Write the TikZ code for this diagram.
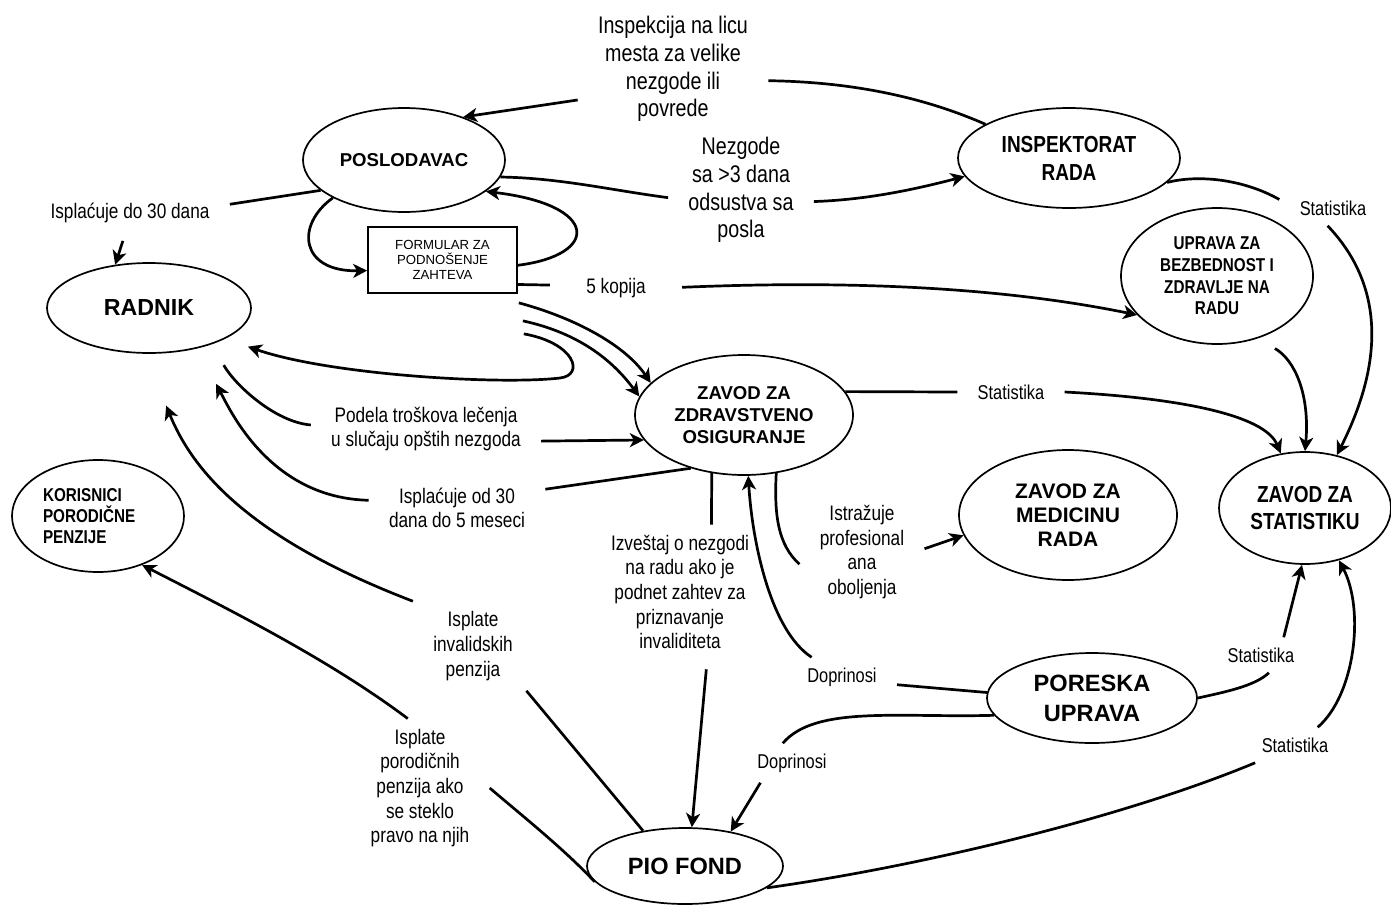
\documentclass[tikz,border=0pt]{standalone}
\usepackage{fontspec}
\setmainfont{Liberation Sans}
\newfontfamily\narrowfont{Liberation Sans}[FakeStretch=0.82]
\usepackage{tikz}
\usetikzlibrary{shapes.geometric}
\usetikzlibrary{arrows.meta}

\newcommand{\lblfont}{\narrowfont\fontsize{10.5}{12.3}\selectfont}
\newcommand{\biglblfont}{\narrowfont\fontsize{12}{13.8}\selectfont}
\newcommand{\smlblfont}{\narrowfont\fontsize{10}{12}\selectfont}

\tikzset{
  ent/.style={draw, ellipse, line width=0.85pt, inner sep=0pt, align=center},
  lbl/.style={inner xsep=10pt, inner ysep=5pt, align=center, font=\lblfont},
  flow/.style={line width=1.35pt},
  arr/.style={flow, -{Stealth[length=7pt,width=7pt,inset=2pt]}},
}

\begin{document}
\begin{tikzpicture}[x=0.5pt,y=-0.5pt]
                        \useasboundingbox (0,0) rectangle (1391,905);
                        \fill[white] (0,0) rectangle (1391,905);

                        % Drawing node POSLODAVAC
                        \node[ent, minimum width=101pt, minimum height=52pt, font={\fontsize{9.3}{10.8}\selectfont\bfseries}] (posl) at (404,160) {POSLODAVAC};

                        % Drawing node RADNIK
                        \node[ent, minimum width=102pt, minimum height=45pt, font={\fontsize{11.6}{14}\selectfont\bfseries}] (radnik) at (149,308) {RADNIK};

                        % Drawing box FORMULAR
                        \node[draw, rectangle, line width=0.85pt, minimum width=74.5pt, minimum height=33pt, inner sep=0pt, align=center, font={\fontsize{6.6}{7.5}\selectfont}] (form) at (442.5,260) {FORMULAR ZA\\PODNOŠENJE\\ZAHTEVA};

                        % Drawing node INSPEKTORAT RADA
                        \node[ent, minimum width=111pt, minimum height=50pt, font={\narrowfont\fontsize{11.6}{14}\selectfont\bfseries}] (insp) at (1069,158) {INSPEKTORAT\\RADA};

                        % Drawing node UPRAVA
                        \node[ent, minimum width=96pt, minimum height=68pt, font={\narrowfont\fontsize{9.3}{10.8}\selectfont\bfseries}] (uprava) at (1217,276) {UPRAVA ZA\\BEZBEDNOST I\\ZDRAVLJE NA\\RADU};

                        % Drawing node ZAVOD ZA ZDRAVSTVENO OSIGURANJE
                        \node[ent, minimum width=109pt, minimum height=60pt, font={\fontsize{9.3}{10.8}\selectfont\bfseries}] (zzo) at (744,415) {ZAVOD ZA\\ZDRAVSTVENO\\OSIGURANJE};

                        % Drawing node ZAVOD ZA MEDICINU RADA
                        \node[ent, minimum width=109pt, minimum height=65pt, font={\fontsize{10.5}{12}\selectfont\bfseries}] (medicinu) at (1068,515) {ZAVOD ZA\\MEDICINU\\RADA};

                        % Drawing node ZAVOD ZA STATISTIKU
                        \node[ent, minimum width=86pt, minimum height=56pt, font={\narrowfont\fontsize{11.6}{13.5}\selectfont\bfseries}] (stat) at (1305,508) {ZAVOD ZA\\STATISTIKU};

                        % Drawing node PORESKA UPRAVA
                        \node[ent, minimum width=105pt, minimum height=45pt, font={\fontsize{11.8}{15}\selectfont\bfseries}] (poreska) at (1092,698) {PORESKA\\UPRAVA};

                        % Drawing node PIO FOND
                        \node[ent, minimum width=98pt, minimum height=38pt, font={\fontsize{11.8}{14}\selectfont\bfseries}] (pio) at (685,866) {PIO FOND};

                        % Drawing node KORISNICI
                        \node[ent, align=left, text width=55pt, minimum width=86pt, minimum height=56pt, font={\narrowfont\fontsize{9.3}{10.5}\selectfont\bfseries}] (koris) at (98,516) {KORISNICI\\PORODIČNE\\PENZIJE};

                        % Labels
                        \node[lbl, font=\biglblfont] (lInsp) at (673,69) {Inspekcija na licu\\mesta za velike\\nezgode ili\\povrede};
                        \node[lbl, font=\biglblfont] (lNezg) at (741,190) {Nezgode\\sa >3 dana\\odsustva sa\\posla};
                        \node[lbl] (lIspl30) at (130,213) {Isplaćuje do 30 dana};
                        \node[lbl] (l5kop) at (616,288) {5 kopija};
                        \node[lbl] (lPodela) at (426,429) {Podela troškova lečenja\\u slučaju opštih nezgoda};
                        \node[lbl] (lIsplOd) at (457,508) {Isplaćuje od 30\\dana do 5 meseci};
                        \node[lbl] (lIzv) at (680,592) {Izveštaj o nezgodi\\na radu ako je\\podnet zahtev za\\priznavanje\\invaliditeta};
                        \node[lbl] (lIstr) at (862,552) {Istražuje\\profesional\\ana\\oboljenja};
                        \node[lbl] (lIspInv) at (473,646) {Isplate\\invalidskih\\penzija};
                        \node[lbl] (lIspPor) at (420,788) {Isplate\\porodičnih\\penzija ako\\se steklo\\pravo na njih};
                        \node[lbl, font=\smlblfont] (lDopr1) at (842,677) {Doprinosi};
                        \node[lbl, font=\smlblfont] (lDopr2) at (792,763) {Doprinosi};
                        \node[lbl, font=\smlblfont] (lStat1) at (1333,208) {Statistika};
                        \node[lbl, font=\smlblfont] (lStat2) at (1011,392) {Statistika};
                        \node[lbl, font=\smlblfont] (lStat3) at (1261,655) {Statistika};
                        \node[lbl, font=\smlblfont] (lStat4) at (1295,745) {Statistika};

                        % Drawing segment lInsp posl
                        \draw[arr] (lInsp.198) -- (posl.36);
                        % Drawing segment lInsp insp
                        \draw[flow] (lInsp.353) .. controls (860,82) and (930,100) .. (insp.158);
                        % Drawing segment posl lNezg
                        \draw[flow] (posl.-10) .. controls (560,178) and (610,190) .. (lNezg.186);
                        % Drawing segment lNezg insp
                        \draw[arr] (lNezg.351) .. controls (860,200) and (905,192) .. (insp.190);
                        % Drawing segment insp lStat1
                        \draw[flow] (insp.-14) .. controls (1200,174) and (1245,180) .. (lStat1.171);
                        % Drawing segment lStat1 stat
                        \draw[arr] (lStat1.253) .. controls (1370,270) and (1395,340) .. (stat.59);

                        % Drawing segment posl lIspl30
                        \draw[flow] (posl.200) -- (lIspl30.5);
                        % Drawing segment lIspl30 radnik
                        \draw[arr, shorten <=4pt] (lIspl30.257) -- (radnik.128);
                        % Drawing segment posl form
                        \draw[arr] (posl.208) .. controls (295,225) and (300,272) .. (form.188);
                        % Drawing segment form posl
                        \draw[arr] (form.-4) .. controls (600,255) and (600,205) .. (posl.-21);
                        % Drawing segment form l5kop
                        \draw[flow, shorten >=8pt] (form.-18) -- (l5kop.177);
                        % Drawing segment l5kop uprava
                        \draw[arr, shorten <=8pt] (l5kop.east) .. controls (900,278) and (1040,295) .. (uprava.206);
                        % Drawing segments form zzo
                        \draw[arr] ([shift={(1,9)}]form.south east) .. controls (575,318) and (625,345) .. (zzo.161);
                        \draw[arr] ([shift={(5,27)}]form.south east) .. controls (565,330) and (605,350) .. (zzo.170);
                        % Drawing segment form radnik
                        \draw[arr, shorten >=12pt] ([shift={(6,40)}]form.south east) .. controls (575,343) and (585,375) .. (560,378) .. controls (500,385) and (330,375) .. (radnik.-22);

                        % Drawing segment radnik lPodela
                        \draw[flow, shorten <=12pt] (radnik.-30) .. controls (235,385) and (275,422) .. (lPodela.178);
                        % Drawing segment lPodela zzo
                        \draw[arr] (lPodela.-6) -- (zzo.194);
                        % Drawing segment zzo lIsplOd
                        \draw[flow] (zzo.225) -- (lIsplOd.12);
                        % Drawing segment lIsplOd radnik
                        \draw[arr, shorten >=20pt] (lIsplOd.175) .. controls (270,498) and (230,410) .. (radnik.-40);
                        % Drawing segment lIspInv radnik
                        \draw[arr, shorten >=28pt] (lIspInv.north west) .. controls (240,535) and (190,464) .. (radnik.-95);
                        % Drawing segment lIspInv pio
                        \draw[flow] (lIspInv.-40) -- (pio.140);
                        % Drawing segment lIspPor koris
                        \draw[arr] (lIspPor.100) .. controls (330,660) and (230,610) .. (koris.-48);
                        % Drawing segment lIspPor pio
                        \draw[flow] (lIspPor.east) .. controls (525,818) and (565,850) .. (pio.190);

                        % Drawing segment zzo lIzv
                        \draw[flow] (zzo.241) -- (lIzv.65);
                        % Drawing segment lIzv pio
                        \draw[arr, shorten <=5pt] (lIzv.-68) -- (pio.80);
                        % Drawing segment lDopr1 zzo
                        \draw[arr] (lDopr1.147) .. controls (770,630) and (752,540) .. (zzo.-86);
                        % Drawing segment zzo lIstr
                        \draw[flow] (zzo.-61) .. controls (774,515) and (778,545) .. (lIstr.191);
                        % Drawing segment lIstr medicinu
                        \draw[arr] (lIstr.3) -- (medicinu.191);
                        % Drawing segment poreska lDopr1
                        \draw[flow] (poreska.177) -- (lDopr1.-8);
                        % Drawing segment poreska lDopr2
                        \draw[flow] (poreska.190) .. controls (900,718) and (815,705) .. (lDopr2.115);
                        % Drawing segment lDopr2 pio
                        \draw[arr] (lDopr2.212) -- (pio.37);

                        % Drawing segment poreska lStat3
                        \draw[flow] (poreska.0) .. controls (1225,692) and (1255,686) .. (lStat3.-66);
                        % Drawing segment lStat3 stat
                        \draw[arr] (lStat3.38) -- (stat.267);
                        % Drawing segment lStat4 stat
                        \draw[arr] (lStat4.38) .. controls (1355,695) and (1365,610) .. (stat.-57);
                        % Drawing segment lStat4 pio
                        \draw[flow] (lStat4.204) .. controls (1130,815) and (930,865) .. (pio.-15);
                        % Drawing segment zzo lStat2
                        \draw[flow] (zzo.13) -- (lStat2.west);
                        % Drawing segment lStat2 stat
                        \draw[arr] (lStat2.east) .. controls (1180,398) and (1265,415) .. (stat.114);
                        % Drawing segment uprava stat
                        \draw[arr, shorten <=10pt] (uprava.-57) .. controls (1295,360) and (1310,395) .. (stat.north);
\end{tikzpicture}
\end{document}
